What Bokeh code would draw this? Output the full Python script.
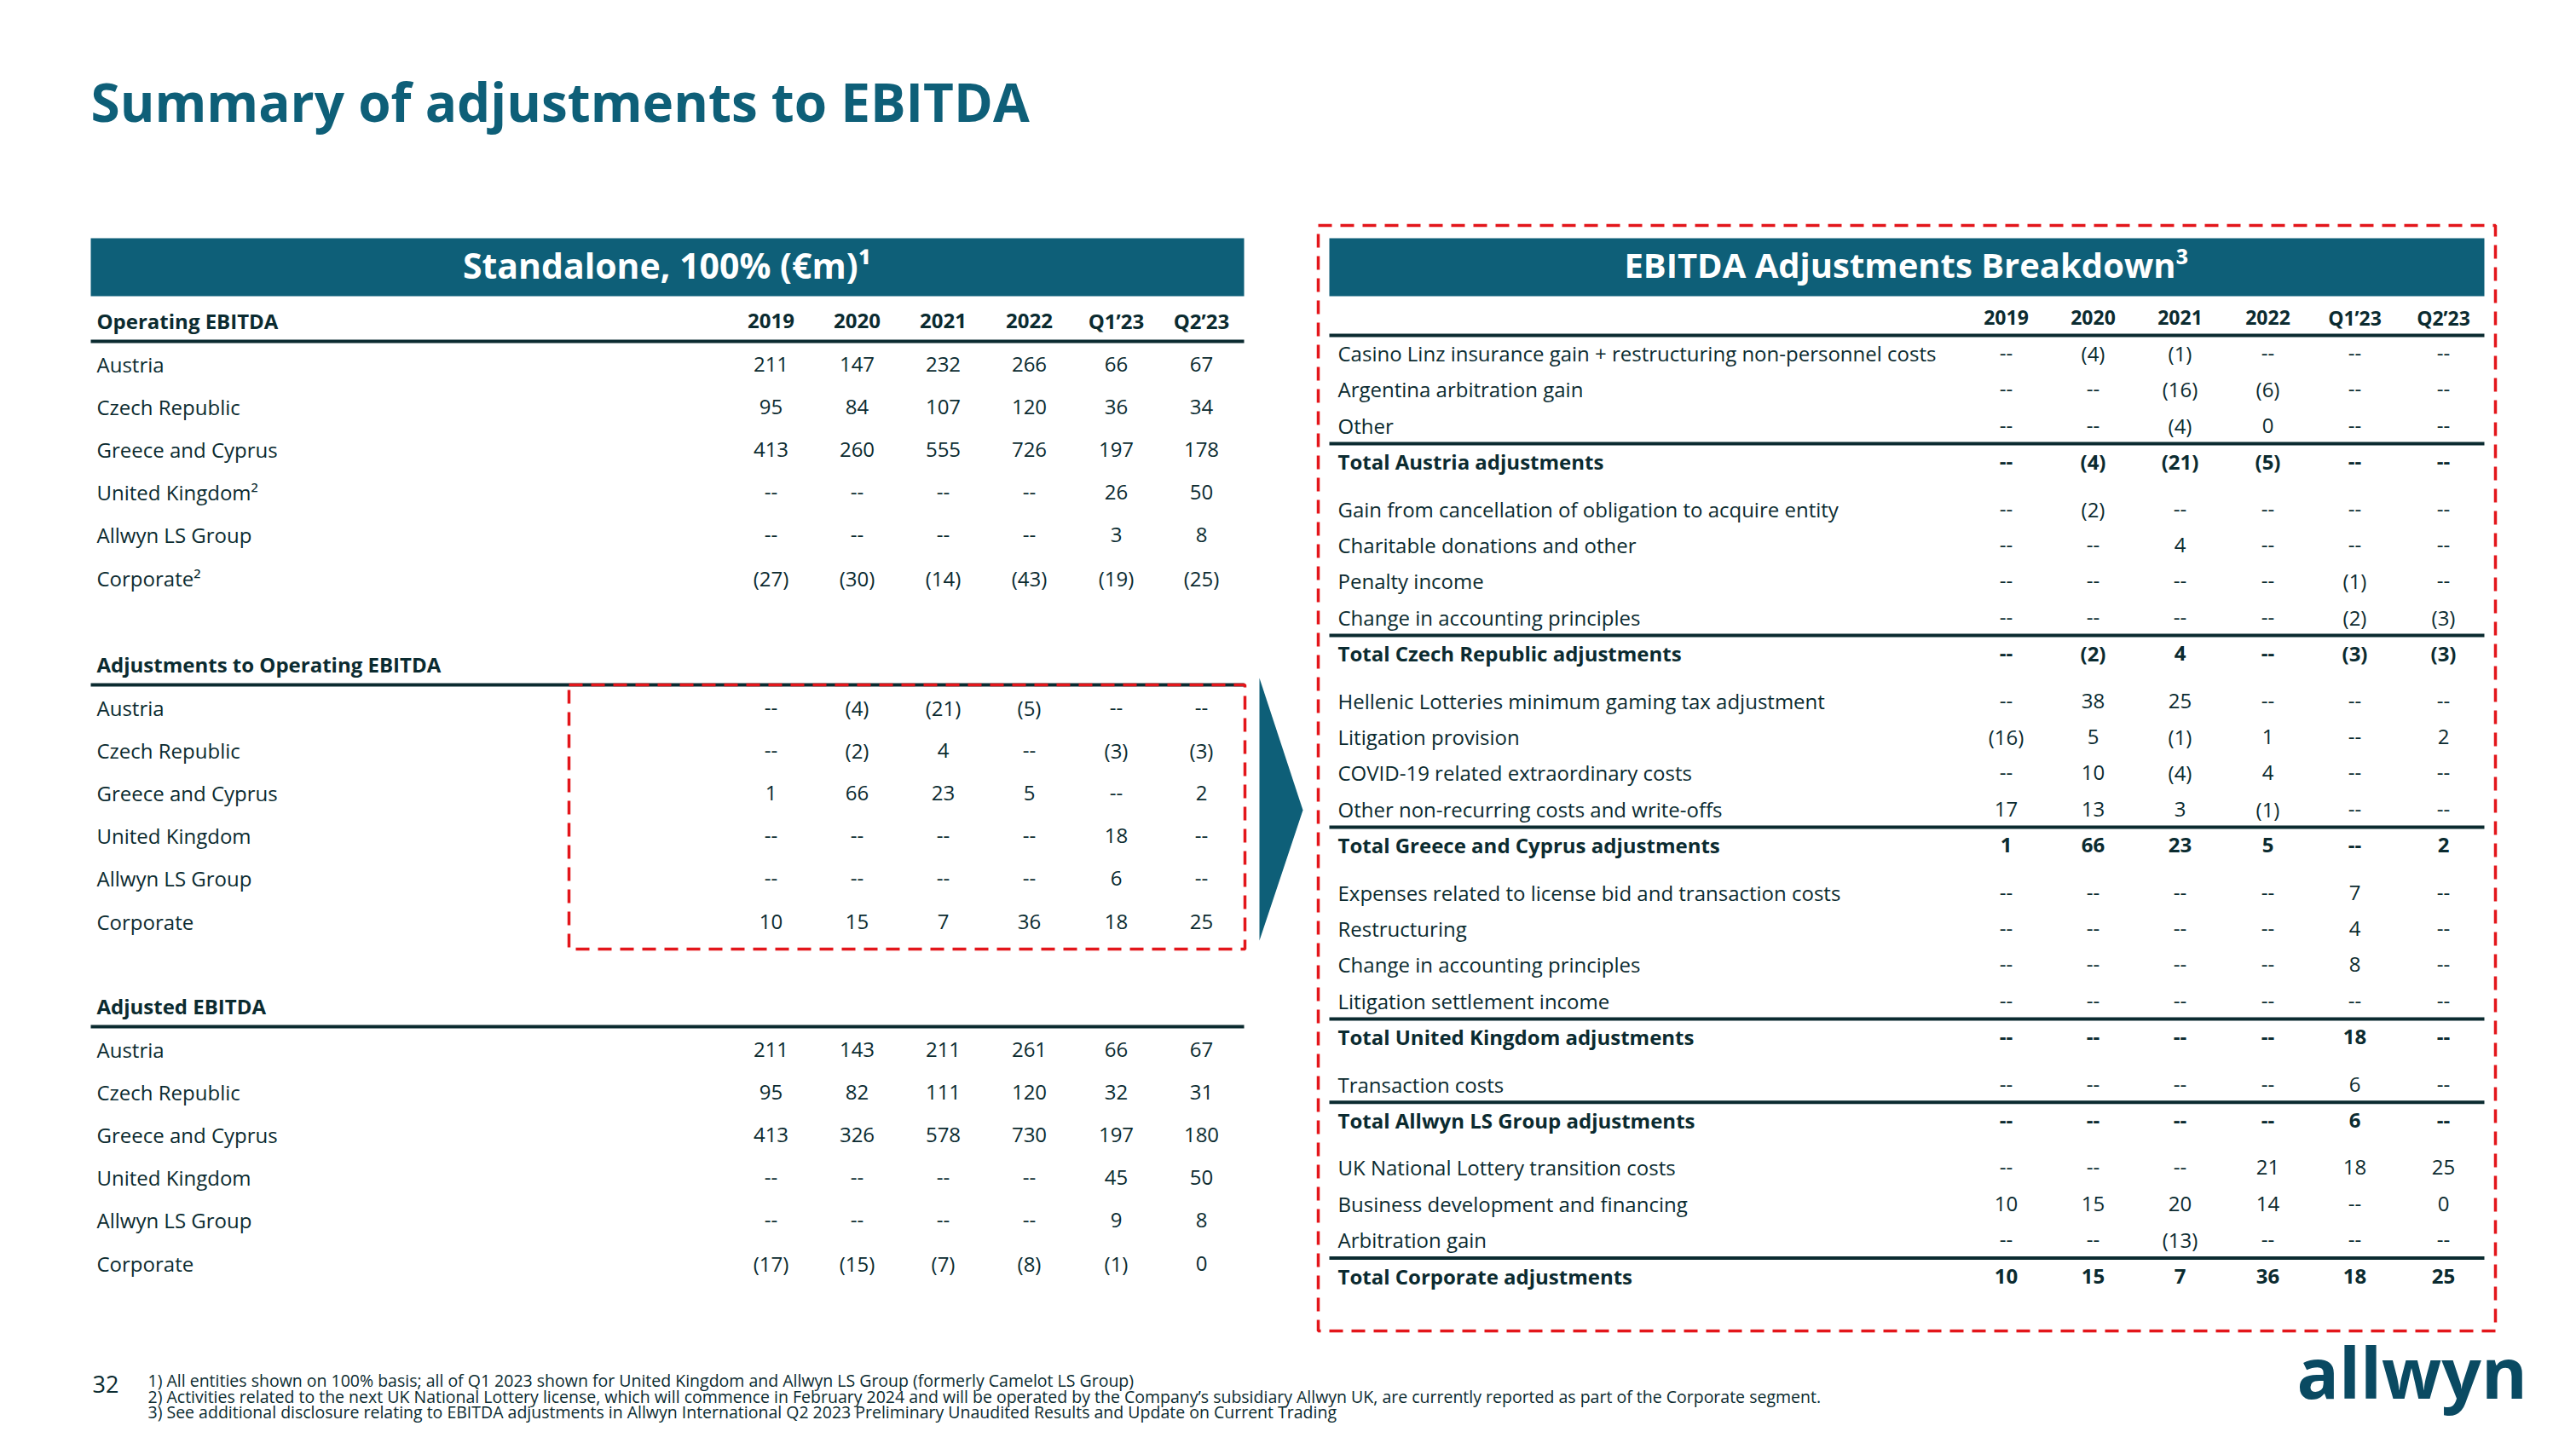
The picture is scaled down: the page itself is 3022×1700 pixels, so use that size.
from bokeh.plotting import figure
from bokeh.models import Range1d, ColumnDataSource
from bokeh.embed import file_html
from bokeh.resources import INLINE
from bokeh.core.properties import value

# ---------------- data ----------------
title = "Summary of adjustments to EBITDA"
left_header = "Standalone, 100% (€m)¹"
right_header = "EBITDA Adjustments Breakdown³"
years = ["2019", "2020", "2021", "2022", "Q1’23", "Q2’23"]

left_sections = ["Operating EBITDA", "Adjustments to Operating EBITDA", "Adjusted EBITDA"]
regions_op = ["Austria", "Czech Republic", "Greece and Cyprus", "United Kingdom²", "Allwyn LS Group", "Corporate²"]
regions = ["Austria", "Czech Republic", "Greece and Cyprus", "United Kingdom", "Allwyn LS Group", "Corporate"]

op_austria = [211, 147, 232, 266, 66, 67]
op_czech = [95, 84, 107, 120, 36, 34]
op_greece = [413, 260, 555, 726, 197, 178]
op_uk = [None, None, None, None, 26, 50]
op_allwyn = [None, None, None, None, 3, 8]
op_corp = [-27, -30, -14, -43, -19, -25]

adj_austria = [None, -4, -21, -5, None, None]
adj_czech = [None, -2, 4, None, -3, -3]
adj_greece = [1, 66, 23, 5, None, 2]
adj_uk = [None, None, None, None, 18, None]
adj_allwyn = [None, None, None, None, 6, None]
adj_corp = [10, 15, 7, 36, 18, 25]

ad_austria = [211, 143, 211, 261, 66, 67]
ad_czech = [95, 82, 111, 120, 32, 31]
ad_greece = [413, 326, 578, 730, 197, 180]
ad_uk = [None, None, None, None, 45, 50]
ad_allwyn = [None, None, None, None, 9, 8]
ad_corp = [-17, -15, -7, -8, -1, 0]

# right table: items per group
at_items = ["Casino Linz insurance gain + restructuring non-personnel costs", "Argentina arbitration gain", "Other"]
at_values = [[None, -4, -1, None, None, None], [None, None, -16, -6, None, None], [None, None, -4, 0, None, None]]
at_total = [None, -4, -21, -5, None, None]

cz_items = ["Gain from cancellation of obligation to acquire entity", "Charitable donations and other",
            "Penalty income", "Change in accounting principles"]
cz_values = [[None, -2, None, None, None, None], [None, None, 4, None, None, None],
             [None, None, None, None, -1, None], [None, None, None, None, -2, -3]]
cz_total = [None, -2, 4, None, -3, -3]

gr_items = ["Hellenic Lotteries minimum gaming tax adjustment", "Litigation provision",
            "COVID-19 related extraordinary costs", "Other non-recurring costs and write-offs"]
gr_values = [[None, 38, 25, None, None, None], [-16, 5, -1, 1, None, 2],
             [None, 10, -4, 4, None, None], [17, 13, 3, -1, None, None]]
gr_total = [1, 66, 23, 5, None, 2]

uk_items = ["Expenses related to license bid and transaction costs", "Restructuring",
            "Change in accounting principles", "Litigation settlement income"]
uk_values = [[None, None, None, None, 7, None], [None, None, None, None, 4, None],
             [None, None, None, None, 8, None], [None, None, None, None, None, None]]
uk_total = [None, None, None, None, 18, None]

ls_items = ["Transaction costs"]
ls_values = [[None, None, None, None, 6, None]]
ls_total = [None, None, None, None, 6, None]

co_items = ["UK National Lottery transition costs", "Business development and financing", "Arbitration gain"]
co_values = [[None, None, None, 21, 18, 25], [10, 15, 20, 14, None, 0], [None, None, -13, None, None, None]]
co_total = [10, 15, 7, 36, 18, 25]

total_labels = ["Total Austria adjustments", "Total Czech Republic adjustments", "Total Greece and Cyprus adjustments",
                "Total United Kingdom adjustments", "Total Allwyn LS Group adjustments", "Total Corporate adjustments"]

footnotes = [
    "1) All entities shown on 100% basis; all of Q1 2023 shown for United Kingdom and Allwyn LS Group (formerly Camelot LS Group)",
    "2) Activities related to the next UK National Lottery license, which will commence in February 2024 and will  be operated by the Company’s subsidiary Allwyn UK, are currently reported as part of the Corporate segment.",
    "3) See additional disclosure relating to EBITDA adjustments in Allwyn International Q2 2023 Preliminary Unaudited Results and Update on Current Trading",
]
page_number = "32"
logo = "allwyn"


def fmt(v):
    if v is None:
        return "--"
    if v < 0:
        return "(%d)" % (-v)
    return "%d" % v


# ---------------- style ----------------
TEAL = "#0e5f78"
DARK = "#0b2b30"
RED = "#e3161b"
FONT = "Open Sans"

W, H = 3006, 1684
p = figure(width=W, height=H, x_range=Range1d(0, W), y_range=Range1d(H, 0),
           output_backend="svg", toolbar_location=None, x_axis_location=None, y_axis_location=None,
           min_border=0, min_border_left=0, min_border_right=0, min_border_top=0, min_border_bottom=0)
p.grid.visible = False
p.outline_line_color = None
p.background_fill_color = "white"
p.border_fill_color = "white"

texts = {}


def add_text(x, y, t, size, bold=False, align="left", color=DARK):
    key = (size, bold, align, color)
    d = texts.setdefault(key, dict(x=[], y=[], t=[]))
    d["x"].append(x)
    d["y"].append(y)
    d["t"].append(t)


hlines = dict(x0=[], x1=[], y=[], w=[])


def add_hline(x0, x1, y, w=4):
    hlines["x0"].append(x0)
    hlines["x1"].append(x1)
    hlines["y"].append(y)
    hlines["w"].append(w)


# title
add_text(106, 118, title, 62, bold=True, color=TEAL)

# header bars
p.quad(left=[106, 1559], right=[1459, 2914], top=[279, 279], bottom=[347, 347],
       fill_color=TEAL, line_color=None)
add_text(782, 310, left_header, 41, bold=True, align="center", color="white")
add_text(2236, 310, right_header, 40, bold=True, align="center", color="white")

# ---------------- left table ----------------
L_X0, L_X1, L_LAB = 106, 1459, 113
L_COLS = [904, 1005, 1106, 1207, 1309, 1409]
L_SEC_Y = [376, 779, 1180]
L_STEP = 50.1
L_SIZE = 24

left_data = [
    (regions_op, [op_austria, op_czech, op_greece, op_uk, op_allwyn, op_corp]),
    (regions, [adj_austria, adj_czech, adj_greece, adj_uk, adj_allwyn, adj_corp]),
    (regions, [ad_austria, ad_czech, ad_greece, ad_uk, ad_allwyn, ad_corp]),
]
for si, (sec, (labels, rows)) in enumerate(zip(left_sections, left_data)):
    y0 = L_SEC_Y[si]
    add_text(L_LAB, y0, sec, L_SIZE, bold=True)
    if si == 0:
        for cx, yr in zip(L_COLS, years):
            add_text(cx, y0, yr, L_SIZE, bold=True, align="center")
    add_hline(L_X0, L_X1, y0 + 24, 4)
    for ri, (lab, vals) in enumerate(zip(labels, rows)):
        ry = y0 + 51 + ri * L_STEP
        add_text(L_LAB, ry, lab, L_SIZE)
        for cx, v in zip(L_COLS, vals):
            add_text(cx, ry, fmt(v), L_SIZE, align="center")

# ---------------- right table ----------------
R_X0, R_X1, R_LAB = 1559, 2914, 1569
R_COLS = [2353, 2455, 2557, 2660, 2762, 2866]
R_HEAD_Y = 372
R_STEP = 42.4
R_GAP = 55.4
R_SIZE = 24

for cx, yr in zip(R_COLS, years):
    add_text(cx, R_HEAD_Y, yr, R_SIZE - 1, bold=True, align="center")
add_hline(R_X0, R_X1, 393, 4)

groups = [(at_items, at_values, at_total), (cz_items, cz_values, cz_total), (gr_items, gr_values, gr_total),
          (uk_items, uk_values, uk_total), (ls_items, ls_values, ls_total), (co_items, co_values, co_total)]
y = 414.0
for gi, (items, vals, tot) in enumerate(groups):
    if gi > 0:
        y += R_GAP
    for lab, row in zip(items, vals):
        add_text(R_LAB, y, lab, R_SIZE)
        for cx, v in zip(R_COLS, row):
            add_text(cx, y, fmt(v), R_SIZE, align="center")
        y += R_STEP
    add_hline(R_X0, R_X1, y - R_STEP / 2, 4)
    add_text(R_LAB, y, total_labels[gi], R_SIZE, bold=True)
    for cx, v in zip(R_COLS, tot):
        add_text(cx, y, fmt(v), R_SIZE, bold=True, align="center")

# lines
p.segment(x0="x0", y0="y", x1="x1", y1="y", line_width="w", line_color=DARK,
          source=ColumnDataSource(hlines))

# red dashed boxes
p.quad(left=[667, 1546], right=[1460, 2927], top=[803, 264], bottom=[1113, 1561],
       fill_color=None, line_color=RED, line_width=3.5, line_dash="16 10")

# arrow
p.patch([1477, 1528, 1477], [795, 950, 1103], fill_color=TEAL, line_color=None)

# footnotes
add_text(108, 1623, page_number, 27)
for i, fn in enumerate(footnotes):
    add_text(173, 1619 + i * 18.5, fn, 19.5)

# logo
add_text(2694, 1608, logo, 82, bold=True, color="#0a4a62")

for (size, bold, align, color), d in texts.items():
    p.text(x="x", y="y", text="t", source=ColumnDataSource(d), text_font=value(FONT),
           text_font_size="%spx" % size, text_font_style="bold" if bold else "normal",
           text_align=align, text_baseline="alphabetic", text_color=color)

open("out.html", "w").write(file_html(p, INLINE))
